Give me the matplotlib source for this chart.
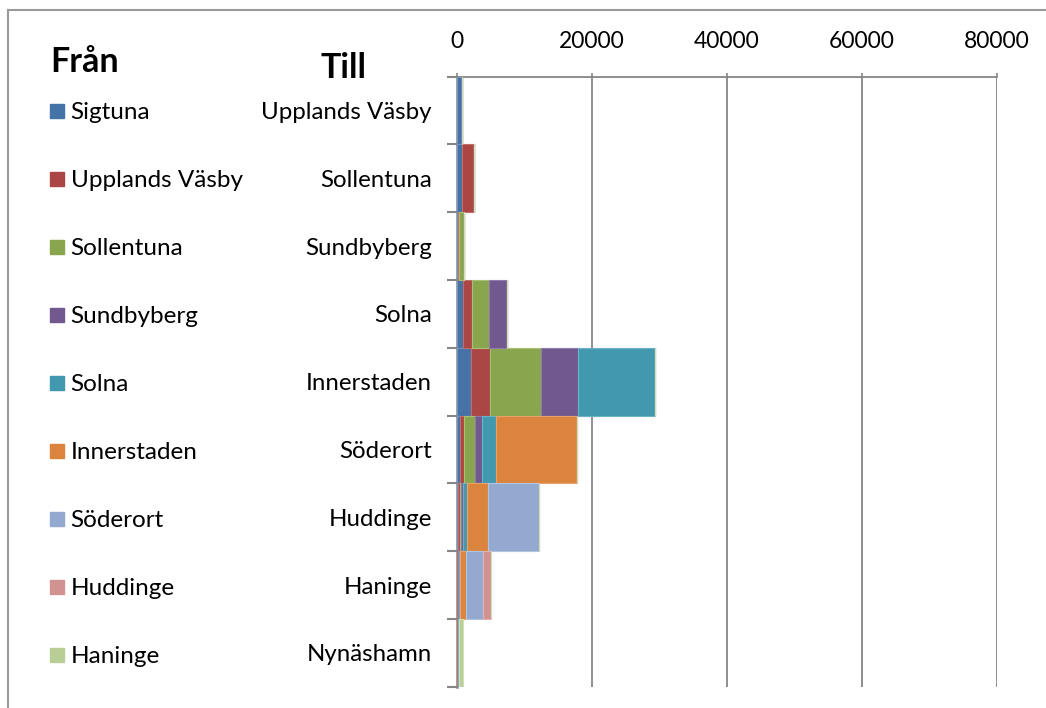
import matplotlib
matplotlib.use("Agg")
import matplotlib.pyplot as plt
import matplotlib.transforms as transforms
from matplotlib.lines import Line2D
import numpy as np

plt.rcParams['font.family'] = ['Lato', 'DejaVu Sans']

# Destinations (Till), top to bottom
destinations = ['Upplands Väsby', 'Sollentuna', 'Sundbyberg', 'Solna', 'Innerstaden',
                'Söderort', 'Huddinge', 'Haninge', 'Nynäshamn']

# Origins (Från), one series each, values per destination
origins = ['Sigtuna', 'Upplands Väsby', 'Sollentuna', 'Sundbyberg', 'Solna',
           'Innerstaden', 'Söderort', 'Huddinge', 'Haninge']

sigtuna = [800, 750, 120, 950, 2050, 450, 200, 50, 50]
upplandsVasby = [0, 1800, 230, 1300, 2850, 650, 250, 50, 50]
sollentuna = [0, 0, 700, 2550, 7600, 1500, 150, 100, 50]
sundbyberg = [0, 0, 0, 2550, 5450, 1150, 250, 50, 50]
solna = [0, 0, 0, 0, 11450, 2100, 640, 150, 50]
innerstaden = [0, 0, 0, 0, 0, 11950, 3150, 900, 50]
soderort = [0, 0, 0, 0, 0, 0, 7450, 2570, 50]
huddinge = [0, 0, 0, 0, 0, 0, 0, 1130, 0]
haninge = [0, 0, 0, 0, 0, 0, 0, 0, 500]

seriesValues = [sigtuna, upplandsVasby, sollentuna, sundbyberg, solna,
                innerstaden, soderort, huddinge, haninge]

xTicks = [0, 20000, 40000, 60000, 80000]

colors = ['#4572A7', '#AA4643', '#89A54E', '#71588F', '#4198AF',
          '#DB843D', '#93A9CF', '#D19392', '#B9CD96']
edgeColors = ['#6F93C2', '#C56C69', '#A7C072', '#9079AC', '#6AB3C7',
              '#EAA26B', '#B3C4E2', '#E2B2B1', '#D2E0B8']
axisGray = '#868686'

fig = plt.figure(figsize=(10.46, 7.08), dpi=100)
ax = fig.add_axes([0.4369, 0.0301, 0.5163, 0.8616])

# Stacked horizontal bars filling each category slot
positions = np.arange(len(destinations))
left = np.zeros(len(destinations))
for values, color, edge in zip(seriesValues, colors, edgeColors):
    ax.barh(positions, values, left=left, height=1.0, color=color,
            edgecolor=edge, linewidth=0.8, zorder=3)
    left = left + np.array(values)

ax.set_ylim(len(destinations) - 0.5, -0.5)
ax.set_xlim(0, 80000)

# x axis on top
ax.xaxis.set_ticks_position('top')
ax.xaxis.set_label_position('top')
ax.set_xticks(xTicks)
ax.set_xticklabels([str(t) for t in xTicks], fontsize=16.5)
ax.tick_params(axis='x', direction='out', length=3, width=1.2, color=axisGray, pad=15)
ax.grid(axis='x', color=axisGray, linewidth=1.3, zorder=0)

# y axis: labels at centers, tick marks at category boundaries
ax.set_yticks(positions)
ax.set_yticklabels(destinations, fontsize=17.3)
ax.tick_params(axis='y', which='major', length=0, pad=18)
ax.set_yticks(np.arange(len(destinations) + 1) - 0.5, minor=True)
ax.tick_params(axis='y', which='minor', direction='out', length=7, width=1.5, color=axisGray)

for side in ['right', 'bottom']:
    ax.spines[side].set_visible(False)
ax.spines['left'].set_color(axisGray)
ax.spines['left'].set_linewidth(1.8)
ax.spines['top'].set_color(axisGray)
ax.spines['top'].set_linewidth(1.3)

# Headings
fig.text(0.0478, 0.912, 'Från', fontsize=24.5, fontweight='bold', va='center', ha='left')
fig.text(0.328, 0.904, 'Till', fontsize=24.5, fontweight='bold', va='center', ha='center')

# Legend aligned with the rows
blend = transforms.blended_transform_factory(fig.transFigure, ax.transData)
for i, (name, color) in enumerate(zip(origins, colors)):
    y = i + 0.004 * i
    marker = Line2D([0.0545], [y], marker='s', markersize=10.5, color=color,
                    linestyle='none', transform=blend, clip_on=False)
    ax.add_artist(marker)
    ax.text(0.0675, y, name, fontsize=17.5, va='center_baseline', ha='left', transform=blend)

# Chart area border (left and top edges)
fig.add_artist(Line2D([0.0072, 0.0072], [0.0, 0.986], color='#9A9A9A', linewidth=1.5,
                      transform=fig.transFigure))
fig.add_artist(Line2D([0.0072, 1.0], [0.986, 0.986], color='#9A9A9A', linewidth=1.5,
                      transform=fig.transFigure))

fig.savefig('out.png', dpi=100)
